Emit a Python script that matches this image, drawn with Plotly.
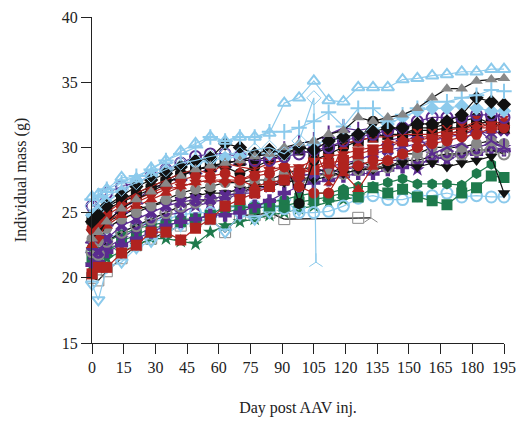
import plotly.graph_objects as go

DAYS = [0, 3, 7, 14, 21, 28, 35, 42, 49, 56, 63, 70, 77, 84, 91, 98, 105, 112, 119, 126,
        133, 140, 147, 154, 161, 168, 175, 182, 189, 195]

LB = "#8ccaec"
BK = "#111111"
GR = "#888888"
RD = "#b0231f"
PU = "#5a2b8f"
GN = "#1e7a4c"

# masses aligned to DAYS; None = not measured
lb_triangle = [26.2, 26.4, 26.8, 27.7, 27.6, 28.4, 29.0, 29.7, 30.3, 30.8, 30.5, 30.8, 30.8, 31.1, 33.4, 33.8, 35.1, 33.6, 33.5, 34.6, 34.6, 34.6, 35.2, 35.3, 35.5, 35.6, 35.8, 35.8, 36.0, 36.0]
gr_triangle = [23.0, 23.5, 24.3, 25.3, 26.0, 26.6, 27.2, 27.8, 28.3, 28.6, 28.8, 29.0, 29.3, 29.5, 30.0, 30.3, 30.5, 31.0, 31.3, 32.3, 32.0, 32.3, 32.5, 33.0, 33.8, 34.5, 34.5, 35.1, 35.2, 35.3]
lb_cross = [26.0, 26.3, 26.8, 27.3, 27.8, 28.3, 29.0, 29.5, 30.0, 30.8, 30.5, 30.8, 30.8, 31.2, 31.2, 31.5, 32.0, 32.7, 31.6, 33.0, 33.0, 32.0, 32.5, 33.0, 33.5, 33.5, 33.8, 34.0, 34.4, 34.3]
lb_diamond = [24.8, 25.2, 25.8, 26.6, 27.3, 27.8, 28.2, 28.6, 28.8, 29.0, 29.2, 29.3, 29.5, 29.5, 29.8, 30.0, 30.3, 30.5, 30.8, 31.0, 31.3, 31.8, 32.3, 32.8, 33.0, 33.0, 33.2, 33.0, 32.8, 32.8]
bk_diamond = [24.3, 24.8, 25.5, 26.3, 27.0, 27.5, 28.0, 28.5, 29.0, 29.2, 30.3, 30.0, 29.5, 29.8, 29.5, 30.0, 29.8, 30.5, 30.8, 31.0, 31.2, 31.5, 31.5, 31.8, 31.8, 32.0, 32.5, 33.8, 33.5, 33.3]
pu_circle = [25.5, 25.8, 26.5, 27.0, 27.3, 27.8, 28.3, 28.8, 29.3, 29.5, 29.5, 29.3, 29.0, 29.0, 29.3, 29.5, 29.8, 30.0, 30.5, 30.8, 31.0, 31.3, 31.5, 32.0, 32.3, 32.3, 32.3, 32.5, 32.5, 32.3]
rd_hourglass = [24.0, 24.5, 25.0, 25.8, 26.5, 27.0, 27.5, 28.0, 28.3, 28.0, 28.8, 28.5, 28.3, 28.8, 29.0, 27.2, 30.0, 27.5, 30.3, 30.5, 30.8, 30.8, 31.0, 31.0, 31.0, 31.3, 31.5, 32.0, 31.5, 32.0]
rd_circle = [23.8, 24.2, 24.8, 25.5, 26.0, 26.5, 27.0, 27.5, 27.8, 27.8, 28.0, 27.5, 27.8, 28.0, 28.5, 27.0, 26.5, 26.5, 28.4, 28.6, 29.0, 29.0, 29.5, 30.0, 30.3, 30.5, 30.8, 31.0, 31.5, 31.5]
rd_square = [20.3, 20.8, 20.8, 21.9, 22.5, 23.5, 23.5, 22.9, 23.8, 24.5, 25.5, 26.0, 26.5, 27.0, 27.5, 28.0, 28.3, 28.8, 29.0, 29.5, 29.8, 30.0, 30.5, 30.8, 30.8, 31.0, 31.3, 31.8, 32.0, 31.8]
rd_triangle = [22.5, 23.2, 24.0, 24.8, 25.5, 26.0, 26.5, 27.0, 27.3, 27.5, 27.5, 27.5, 27.0, 27.3, 27.5, 28.0, 28.5, 29.0, 28.0, 26.8, 28.5, 29.0, 29.5, 30.0, 30.5, 31.0, 31.0, 31.5, 31.5, 31.3]
rd_tri_down = [23.5, 23.0, 24.3, 25.0, 25.8, 26.3, 26.8, 27.0, 27.3, 27.5, 27.3, 27.5, 28.0, 28.3, 28.5, 28.5, 29.0, 29.3, 29.5, 29.8, 30.0, 30.3, 30.5, 30.5, 30.8, 31.0, 31.3, 31.5, 31.8, 31.5]
bk_square = [24.5, 24.0, 25.3, 25.8, 26.3, 26.8, 27.3, 27.8, 28.3, 28.5, 28.8, 29.0, 29.0, 29.3, 29.5, 29.8, 29.5, 30.0, 30.3, 30.5, 30.8, 31.0, 31.0, 31.3, 31.3, 31.5, 31.5, 31.8, 32.0, 31.5]
bk_circle = [24.8, 24.5, 25.5, 26.0, 26.5, 27.0, 27.5, 28.0, 28.3, 28.5, 28.5, 28.0, 28.5, 29.0, 29.5, 25.7, 29.0, 29.5, 30.0, 30.5, 32.0, 31.8, 31.0, 31.5, 31.5, 31.8, 32.0, 32.3, 31.8, 31.5]
gr_circle = [23.0, 22.8, 23.8, 24.5, 25.0, 25.5, 26.0, 26.5, 26.8, 27.0, 27.3, 27.3, 27.5, 27.5, 28.0, 28.3, 28.5, 28.0, 28.5, 29.0, 28.5, 29.0, 29.5, 29.5, 30.0, 30.0, 30.0, 30.3, 30.5, 30.3]
gr_circle_dot = [22.0, 21.8, 22.8, 23.5, 24.0, 24.5, 25.0, 25.5, 25.8, 26.0, 26.3, 26.5, 27.0, 27.3, 27.5, 27.5, 27.8, 28.0, 28.0, 28.3, 28.5, 28.5, 29.0, 29.0, 29.3, 29.5, 29.5, 29.8, 29.8, 29.5]
pu_x = [22.5, 22.0, 23.0, 24.0, 24.5, 25.0, 25.5, 25.8, 26.0, 26.0, 26.3, 26.5, 26.5, 27.0, 27.5, 27.8, 28.0, 28.5, 28.8, 29.0, 29.5, 29.8, 30.0, 30.3, 30.5, 30.8, 31.0, 31.3, 31.0, 31.3]
pu_star = [21.8, 21.5, 22.3, 23.0, 23.8, 24.3, 24.8, 25.0, 25.5, 25.8, 26.0, 26.5, 26.8, 27.0, 27.5, 27.8, 28.0, 28.0, 28.3, 28.5, 28.5, 29.0, 29.0, 28.3, 29.5, 29.0, 29.5, 30.0, 30.3, 30.0]
pu_cross = [21.0, 21.2, 22.0, 22.5, 23.0, 23.5, 24.0, 24.3, 24.5, 24.8, 24.8, 25.0, 25.5, 25.9, 26.5, 27.0, 27.3, 27.5, 27.8, 28.0, 28.0, 28.3, 28.5, 28.8, 29.0, 29.3, 29.5, 29.5, 29.8, 29.8]
pu_psi = [23.0, 23.5, 24.3, 25.3, 26.0, 26.8, 27.3, 27.8, 28.3, 28.5, 28.8, 29.0, 29.3, 29.5, 29.8, 30.3, 30.5, 31.0, 31.5, 31.3, 31.5, 30.5, 30.8, 31.0, 29.5, 30.0, 30.3, 31.5, 30.5, 30.0]
bk_tri_down = [23.5, 23.8, 24.3, 24.8, 25.3, 25.5, 25.8, 26.0, 26.3, 26.5, 26.5, 26.8, 27.0, 27.0, 27.3, 27.5, 27.5, 27.8, 28.0, 28.3, 28.3, 28.5, 28.8, 28.5, 28.8, 28.5, 28.8, 29.0, 29.3, 26.5]
gn_hexagon = [22.3, 22.0, 22.8, 23.3, 23.8, 24.0, 24.3, 24.5, 24.5, 24.8, 25.0, 25.3, 25.5, 25.8, 26.0, 26.3, 26.5, 26.5, 26.8, 27.0, 27.0, 27.3, 27.6, 27.2, 27.2, 27.2, 27.1, 28.0, 28.7, 27.7]
gn_square = [21.5, 21.0, 22.0, 22.8, 23.3, 23.8, 24.0, 24.3, 24.5, 24.8, 25.5, 25.5, 25.3, 25.5, 25.5, 25.8, 26.0, 26.2, 26.5, 26.2, 26.9, 26.5, 26.8, 26.2, 25.9, 25.6, 26.5, 26.9, 27.8, 27.7]
gn_star = [21.0, 20.8, 21.5, 22.0, 22.5, 23.0, 23.0, 22.8, 22.6, 23.5, 24.0, 24.3, 24.5, 24.8, 25.0, 25.3, 25.5, 25.8, 26.0, 26.2, None, None, None, None, None, None, None, None, None, None]
lb_circle = [22.0, 22.5, 23.0, 23.5, 24.0, 24.3, 24.5, 24.8, 25.0, 25.0, 25.3, 25.5, 25.5, 25.5, 25.3, 25.0, 25.0, 25.1, 25.5, 26.1, 26.3, 26.0, 26.0, 26.3, 26.3, 26.5, 26.2, 26.3, 26.2, 26.2]
lb_tri_down = [19.5, 18.3, 20.8, 21.2, 22.3, 22.8, 23.5, 24.0, 24.3, 24.5, 23.5, 24.8, 24.5, 25.0, 25.8, 25.2, None, None, None, None, None, None, None, None, None, None, None, None, None, None]

# Series with their own measurement days
lb_drop_days = [0, 3, 7, 14, 21, 28, 35, 42, 49, 56, 63, 70, 77, 84, 91, 98, 105, 106]
lb_drop_mass = [25.5, 25.8, 26.3, 26.8, 27.3, 27.8, 28.3, 28.8, 29.0, 29.3, 29.5, 29.5, 29.8, 30.0, 29.5, 30.5, 33.8, 21.2]
gr_sq_days = [0, 3, 7, 14, 21, 28, 35, 42, 49, 56, 63, 70, 77, 84, 91, 126, 132]
gr_sq_mass = [20.0, 19.8, 20.5, 21.5, 22.5, 23.0, 23.5, 24.0, 24.3, 24.5, 23.5, 24.8, 24.8, 25.0, 24.5, 24.6, 24.6]

SERIES = [
    (GN, "star", gn_star),
    (LB, "triangle-down-open", lb_tri_down),
    (LB, "circle-open", lb_circle),
    (GN, "square-x", gn_square),
    (GN, "hexagon", gn_hexagon),
    (PU, "cross", pu_cross),
    (PU, "star", pu_star),
    (GR, "circle-open-dot", gr_circle_dot),
    (BK, "triangle-down", bk_tri_down),
    (PU, "x", pu_x),
    (GR, "circle", gr_circle),
    (RD, "square", rd_square),
    (RD, "triangle-up", rd_triangle),
    (PU, "y-up-open", pu_psi),
    (BK, "circle", bk_circle),
    (BK, "square", bk_square),
    (RD, "circle", rd_circle),
    (RD, "triangle-down", rd_tri_down),
    (RD, "hourglass", rd_hourglass),
    (PU, "circle-open", pu_circle),
    (LB, "diamond", lb_diamond),
    (BK, "diamond", bk_diamond),
    (LB, "cross-thin-open", lb_cross),
    (GR, "triangle-up", gr_triangle),
    (LB, "triangle-up-open", lb_triangle),
]

fig = go.Figure()


def add(days, mass, color, symbol):
    open_ = "open" in symbol or "thin" in symbol
    fig.add_trace(go.Scatter(
        x=days, y=mass, mode="lines+markers", cliponaxis=False,
        connectgaps=False,
        line=dict(color=BK if color in (GR, BK) else color, width=1.2),
        marker=dict(symbol=symbol, size=11, color=color,
                    line=dict(color=color, width=2 if open_ else 0)),
        showlegend=False, hoverinfo="skip"))


add(gr_sq_days, gr_sq_mass, GR,
    ["square-open-dot"] * (len(gr_sq_days) - 1) + ["y-up-open"])
for c, s, m in SERIES:
    add(DAYS, m, c, s)
add(lb_drop_days, lb_drop_mass, LB,
    ["diamond-open"] * (len(lb_drop_days) - 1) + ["y-up-open"])

FONT = "Liberation Serif, Times New Roman, serif"
fig.update_layout(
    width=518, height=426,
    margin=dict(l=92, r=14, t=17, b=83),
    paper_bgcolor="white", plot_bgcolor="white",
    font=dict(family=FONT, size=16, color="#222"),
    xaxis=dict(range=[0, 195], tickvals=list(range(0, 196, 15)),
               automargin=False,
               showgrid=False, zeroline=False, showline=True,
               linecolor="#222", linewidth=1, ticks="outside", ticklen=10,
               tickcolor="#222",
               title=dict(text="Day post AAV inj.", standoff=26,
                          font=dict(size=16))),
    yaxis=dict(range=[15, 40], tickvals=[15, 20, 25, 30, 35, 40],
               automargin=False,
               showgrid=False, zeroline=False, showline=True,
               linecolor="#222", linewidth=1, ticks="outside", ticklen=10,
               tickcolor="#222",
               title=dict(text="Individual mass (g)", standoff=31,
                          font=dict(size=16))),
)

# remove the default page margin so the 518x426 figure fills the window exactly
fig.write_html("out.html",
               config={"displayModeBar": False},
               post_script="document.body.style.margin='0';"
                           "document.body.style.overflow='hidden';")
